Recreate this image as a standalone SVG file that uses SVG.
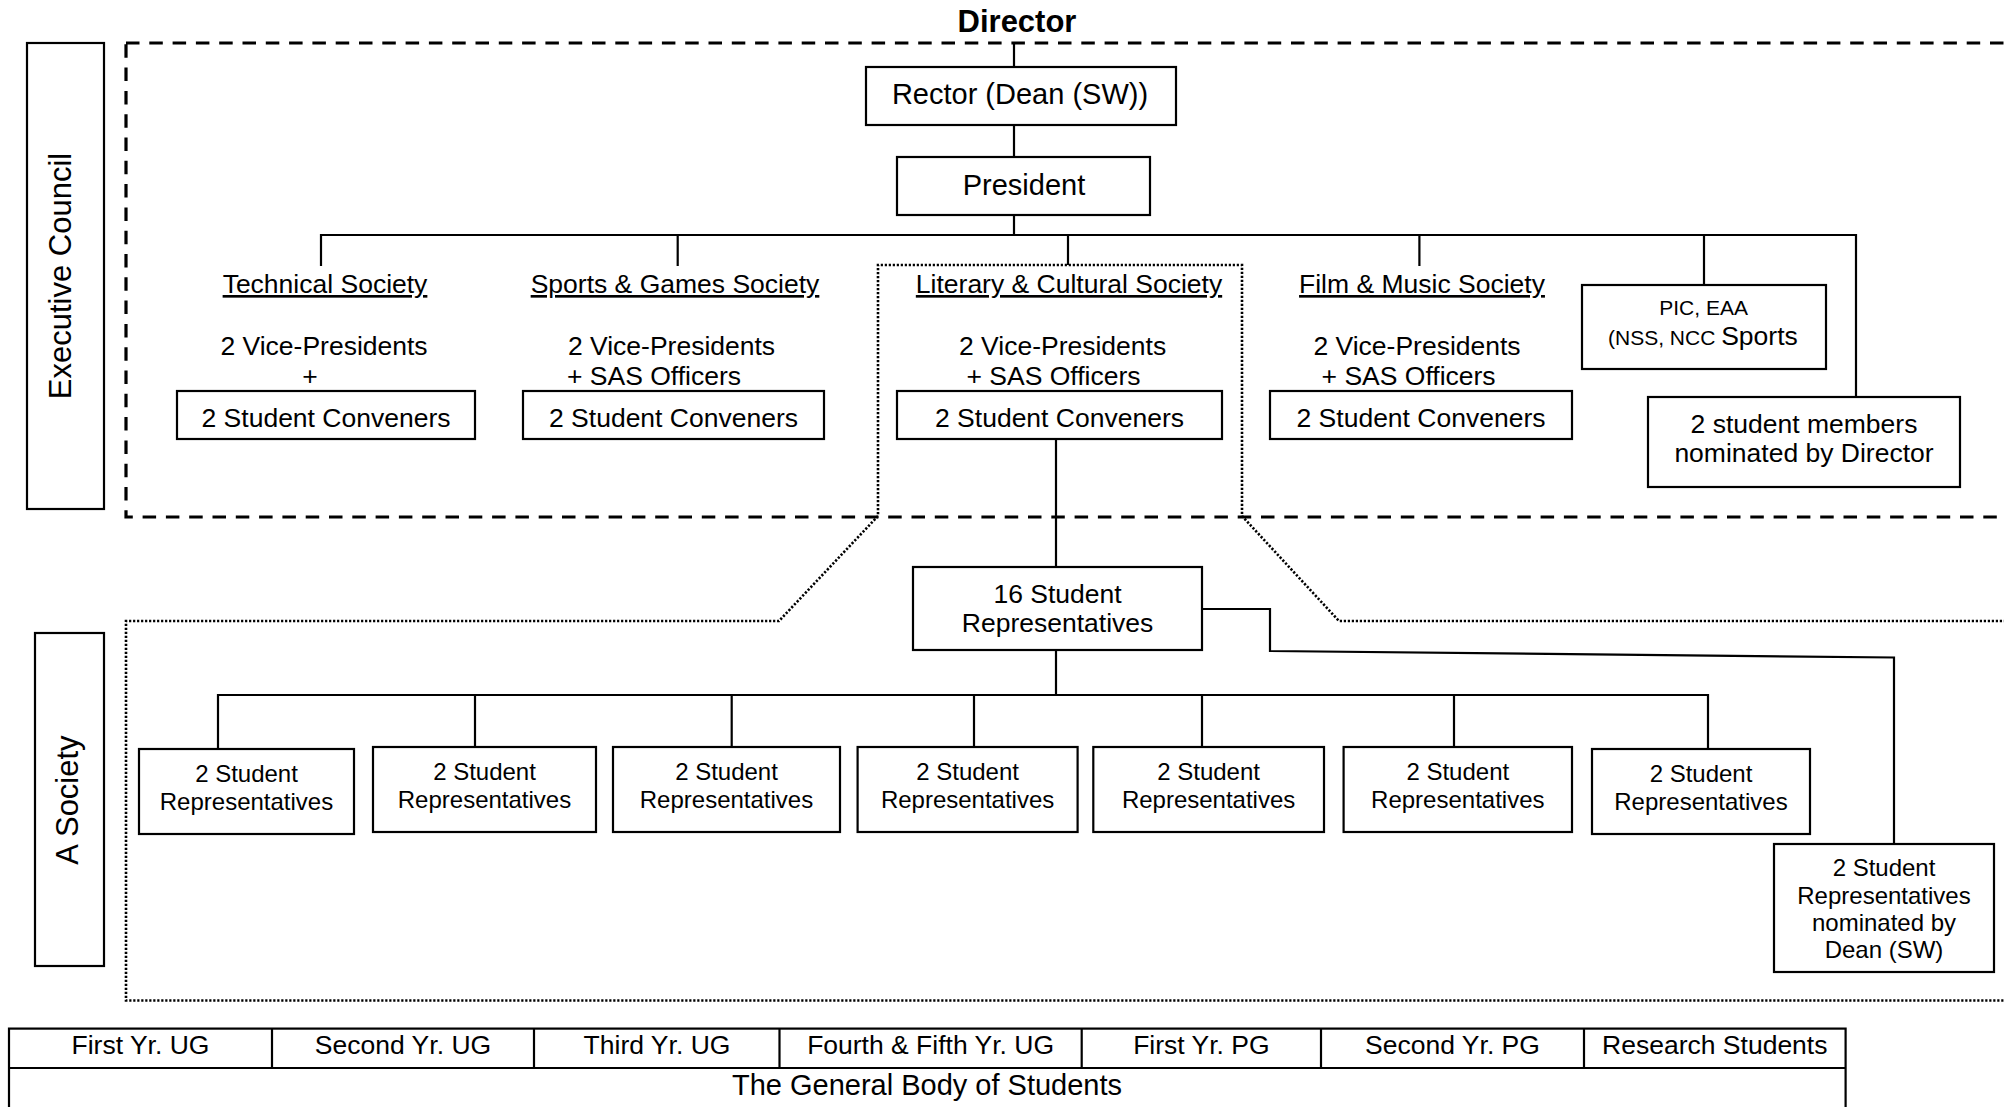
<svg xmlns="http://www.w3.org/2000/svg" width="2004" height="1107" viewBox="0 0 2004 1107">
<style>
.box{fill:#fff;stroke:#000;stroke-width:2.2}
.ln{fill:none;stroke:#000;stroke-width:2.2}
.dash{fill:none;stroke:#000;stroke-width:3.2;stroke-dasharray:13.5 9.8}
.dot{fill:none;stroke:#000;stroke-width:2.6;stroke-dasharray:2.2 1.8}
text{font-family:"Liberation Sans",Arial,sans-serif;fill:#000;text-anchor:middle}
.m{font-size:26.5px}
.l{font-size:29px}
.r{font-size:24px}
.s{font-size:21px}
.v{font-size:31px}
.u{text-decoration:underline}
</style>
<rect width="2004" height="1107" fill="#fff"/>

<g id="frames">
<rect class="dash" x="126" y="43" width="1910" height="474"/>
<polyline class="dot" points="2030,621 1339,621 1242,516 1242,265 878,265 878,516 779,621 126,621 126,1000.5 2030,1000.5"/>
</g>

<g id="connectors">
<path class="ln" d="M1014,43V67M1014,125V157M1014,215V235"/>
<path class="ln" d="M321,266V235H1856V397"/>
<path class="ln" d="M677.7,235V266M1068,235V265M1419.4,235V266M1704,235V285"/>
<path class="ln" d="M1056,439V567M1056,650V695"/>
<path class="ln" d="M218,749V695H1708V749"/>
<path class="ln" d="M475,695V747M731.7,695V747M974,695V747M1202,695V747M1454,695V747"/>
<path class="ln" d="M1202,609H1270V651L1894,657.5V844"/>
</g>

<g id="executive-council-label">
<rect class="box" x="27" y="43" width="77" height="466"/>
<text class="v" transform="translate(70.5,276) rotate(-90)">Executive Council</text>
</g>

<g id="society-label">
<rect class="box" x="35" y="633" width="69" height="333"/>
<text class="v" transform="translate(78,800) rotate(-90)">A Society</text>
</g>

<g id="director">
<text x="1017" y="31.5" style="font-size:31px;font-weight:bold">Director</text>
</g>

<g id="rector">
<rect class="box" x="866" y="67" width="310" height="58"/>
<text class="l" x="1020" y="104">Rector (Dean (SW))</text>
</g>

<g id="president">
<rect class="box" x="897" y="157" width="253" height="58"/>
<text class="l" x="1024" y="195">President</text>
</g>

<g id="technical-society">
<text class="m u" x="325" y="293">Technical Society</text>
<text class="m" x="324" y="355">2 Vice-Presidents</text>
<text class="m" x="310" y="385">+</text>
<rect class="box" x="177" y="391" width="298" height="48"/>
<text class="m" x="326" y="427">2 Student Conveners</text>
</g>

<g id="sports-society">
<text class="m u" x="675" y="293">Sports &amp; Games Society</text>
<text class="m" x="671.5" y="355">2 Vice-Presidents</text>
<text class="m" x="567" y="385" style="text-anchor:start">+ SAS Officers</text>
<rect class="box" x="523" y="391" width="301" height="48"/>
<text class="m" x="673.5" y="427">2 Student Conveners</text>
</g>

<g id="literary-society">
<text class="m u" x="1069" y="293">Literary &amp; Cultural Society</text>
<text class="m" x="1062.6" y="355">2 Vice-Presidents</text>
<text class="m" x="1053.5" y="385">+ SAS Officers</text>
<rect class="box" x="897" y="391" width="325" height="48"/>
<text class="m" x="1059.5" y="427">2 Student Conveners</text>
</g>

<g id="film-society">
<text class="m u" x="1422" y="293">Film &amp; Music Society</text>
<text class="m" x="1417" y="355">2 Vice-Presidents</text>
<text class="m" x="1408.6" y="385">+ SAS Officers</text>
<rect class="box" x="1270" y="391" width="302" height="48"/>
<text class="m" x="1421" y="427">2 Student Conveners</text>
</g>

<g id="pic-eaa">
<rect class="box" x="1582" y="285" width="244" height="84"/>
<text class="s" x="1703.6" y="315">PIC, EAA</text>
<text x="1608" y="345" style="text-anchor:start"><tspan class="s">(NSS, NCC </tspan><tspan class="m">Sports</tspan></text>
</g>

<g id="director-nominees">
<rect class="box" x="1648" y="397" width="312" height="90"/>
<text class="m" x="1804" y="433">2 student members</text>
<text class="m" x="1804" y="462">nominated by Director</text>
</g>

<g id="sixteen-reps">
<rect class="box" x="913" y="567" width="289" height="83"/>
<text class="m" x="1057.6" y="603">16 Student</text>
<text class="m" x="1057.6" y="632">Representatives</text>
</g>

<g id="rep1">
<rect class="box" x="139" y="749" width="215" height="85"/>
<text class="r" x="246.5" y="782">2 Student</text>
<text class="r" x="246.5" y="810">Representatives</text>
</g>
<g id="rep2">
<rect class="box" x="373" y="747" width="223" height="85"/>
<text class="r" x="484.5" y="780">2 Student</text>
<text class="r" x="484.5" y="808">Representatives</text>
</g>
<g id="rep3">
<rect class="box" x="613" y="747" width="227" height="85"/>
<text class="r" x="726.5" y="780">2 Student</text>
<text class="r" x="726.5" y="808">Representatives</text>
</g>
<g id="rep4">
<rect class="box" x="857.6" y="747" width="220" height="85"/>
<text class="r" x="967.6" y="780">2 Student</text>
<text class="r" x="967.6" y="808">Representatives</text>
</g>
<g id="rep5">
<rect class="box" x="1093.3" y="747" width="230.7" height="85"/>
<text class="r" x="1208.6" y="780">2 Student</text>
<text class="r" x="1208.6" y="808">Representatives</text>
</g>
<g id="rep6">
<rect class="box" x="1343.6" y="747" width="228.4" height="85"/>
<text class="r" x="1457.8" y="780">2 Student</text>
<text class="r" x="1457.8" y="808">Representatives</text>
</g>
<g id="rep7">
<rect class="box" x="1592" y="749" width="218" height="85"/>
<text class="r" x="1701" y="782">2 Student</text>
<text class="r" x="1701" y="810">Representatives</text>
</g>

<g id="dean-nominees">
<rect class="box" x="1774" y="844" width="220" height="128"/>
<text class="r" x="1884" y="876">2 Student</text>
<text class="r" x="1884" y="903.5">Representatives</text>
<text class="r" x="1884" y="931">nominated by</text>
<text class="r" x="1884" y="958">Dean (SW)</text>
</g>

<g id="general-body">
<rect class="box" x="9" y="1028.6" width="1836.6" height="100"/>
<path class="ln" d="M9,1068H1845.6M272,1028.6V1068M534,1028.6V1068M779.5,1028.6V1068M1081.7,1028.6V1068M1321,1028.6V1068M1584,1028.6V1068"/>
<text class="m" x="140.5" y="1054">First Yr. UG</text>
<text class="m" x="403" y="1054">Second Yr. UG</text>
<text class="m" x="657" y="1054">Third Yr. UG</text>
<text class="m" x="930.6" y="1054">Fourth &amp; Fifth Yr. UG</text>
<text class="m" x="1201.4" y="1054">First Yr. PG</text>
<text class="m" x="1452.5" y="1054">Second Yr. PG</text>
<text class="m" x="1714.8" y="1054">Research Students</text>
<text class="l" x="927" y="1095">The General Body of Students</text>
</g>
</svg>
